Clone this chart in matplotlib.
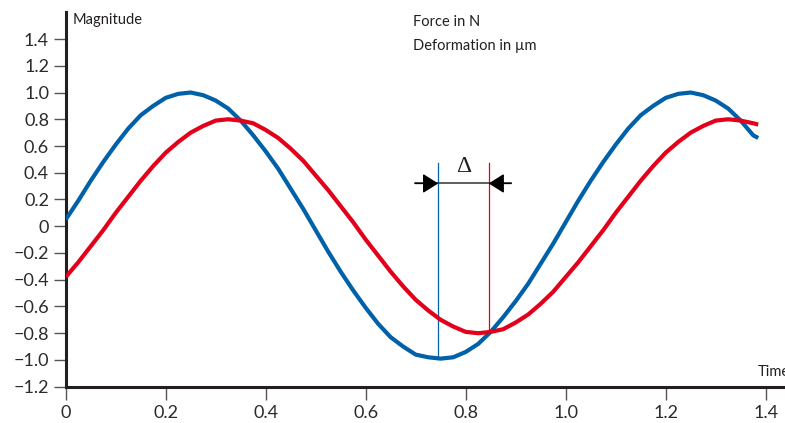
import numpy as np
import matplotlib
matplotlib.use("Agg")
import matplotlib.pyplot as plt

# sampled signals (time step 0.025, last sample at 1.385)
time = np.append(np.arange(0, 1.38, 0.025), 1.385)

force = [0.05, 0.19, 0.34, 0.48, 0.61, 0.73, 0.83, 0.90, 0.96, 0.99,
         1.00, 0.98, 0.94, 0.88, 0.79, 0.68, 0.56, 0.43, 0.28, 0.13,
         -0.03, -0.19, -0.34, -0.48, -0.61, -0.73, -0.83, -0.90, -0.96, -0.98,
         -0.99, -0.98, -0.94, -0.88, -0.79, -0.68, -0.56, -0.43, -0.28, -0.13,
         0.03, 0.19, 0.34, 0.48, 0.61, 0.73, 0.83, 0.90, 0.96, 0.99,
         1.00, 0.98, 0.94, 0.88, 0.79, 0.68, 0.66]

deformation = [-0.38, -0.27, -0.15, -0.03, 0.10, 0.22, 0.34, 0.45, 0.55, 0.63,
               0.70, 0.75, 0.79, 0.80, 0.79, 0.77, 0.72, 0.66, 0.58, 0.49,
               0.38, 0.27, 0.15, 0.03, -0.10, -0.22, -0.34, -0.45, -0.55, -0.63,
               -0.70, -0.75, -0.79, -0.80, -0.79, -0.77, -0.72, -0.66, -0.58, -0.49,
               -0.38, -0.27, -0.15, -0.03, 0.10, 0.22, 0.34, 0.45, 0.55, 0.63,
               0.70, 0.75, 0.79, 0.80, 0.79, 0.77, 0.76]

x_ticks = [0, 0.2, 0.4, 0.6, 0.8, 1.0, 1.2, 1.4]
x_labels = ["0", "0.2", "0.4", "0.6", "0.8", "1.0", "1.2", "1.4"]
y_ticks = [-1.2, -1.0, -0.8, -0.6, -0.4, -0.2, 0, 0.2, 0.4, 0.6, 0.8, 1.0, 1.2, 1.4]
y_labels = ["\u22121.2", "\u22121.0", "\u22120.8", "\u22120.6", "\u22120.4", "\u22120.2", "0",
            "0.2", "0.4", "0.6", "0.8", "1.0", "1.2", "1.4"]

# phase lag markers (minimum of force, minimum of deformation)
lag_start = 0.745
lag_end = 0.846

BLUE = "#0061a9"
RED = "#e2001a"
DARK = "#231f20"

plt.rcParams["font.family"] = ["Lato", "DejaVu Sans"]

fig = plt.figure(figsize=(7.85, 4.23), dpi=100)
ax = fig.add_axes([0.0837, 0.0858, 0.9163, 0.8858])

ax.plot(time, force, color=BLUE, lw=3.0, solid_capstyle="butt",
        solid_joinstyle="round", zorder=3)
ax.plot(time, deformation, color=RED, lw=3.0, solid_capstyle="butt",
        solid_joinstyle="round", zorder=3)

# delta annotation
ax.plot([lag_start, lag_start], [-0.99, 0.47], color=BLUE, lw=0.9, zorder=2)
ax.plot([lag_end, lag_end], [-0.78, 0.47], color=RED, lw=0.9, zorder=2)
ax.plot([0.699, 0.891], [0.32, 0.32], color="#333333", lw=1.1, zorder=2)
head = dict(arrowstyle="-|>,head_length=0.95,head_width=0.6", color="black",
            lw=1.0, shrinkA=0, shrinkB=0, mutation_scale=10)
ax.annotate("", xy=(lag_start, 0.32), xytext=(0.699, 0.32), arrowprops=head)
ax.annotate("", xy=(lag_end, 0.32), xytext=(0.891, 0.32), arrowprops=head)
ax.text((lag_start + lag_end) / 2, 0.45, "\u0394", ha="center", va="center",
        fontsize=17, family="Liberation Serif", color=DARK)

ax.set_xlim(0, 1.4386)
ax.set_ylim(-1.2, 1.602)
ax.set_xticks(x_ticks)
ax.set_xticklabels(x_labels)
ax.set_yticks(y_ticks)
ax.set_yticklabels(y_labels)

for side in ["top", "right"]:
    ax.spines[side].set_visible(False)
for side in ["left", "bottom"]:
    ax.spines[side].set_linewidth(2.2)
    ax.spines[side].set_color(DARK)
ax.tick_params(axis="both", direction="out", length=9, width=1.0,
               color="#555555", labelsize=13, labelcolor="#2b2b2b")
ax.tick_params(axis="y", pad=3)
ax.tick_params(axis="x", pad=4)

fig.text(73 / 785, 1 - 20 / 423, "Magnitude", fontsize=10.5, color=DARK, va="center")
fig.text(413 / 785, 1 - 22 / 423, "Force in N", fontsize=10.5, color=DARK, va="center")
fig.text(413 / 785, 1 - 46 / 423, "Deformation in \u00b5m", fontsize=10.5, color=DARK, va="center")
fig.text(758 / 785, 1 - 372 / 423, "Time", fontsize=10.5, color=DARK, va="center")

fig.savefig("out.png", dpi=100)
